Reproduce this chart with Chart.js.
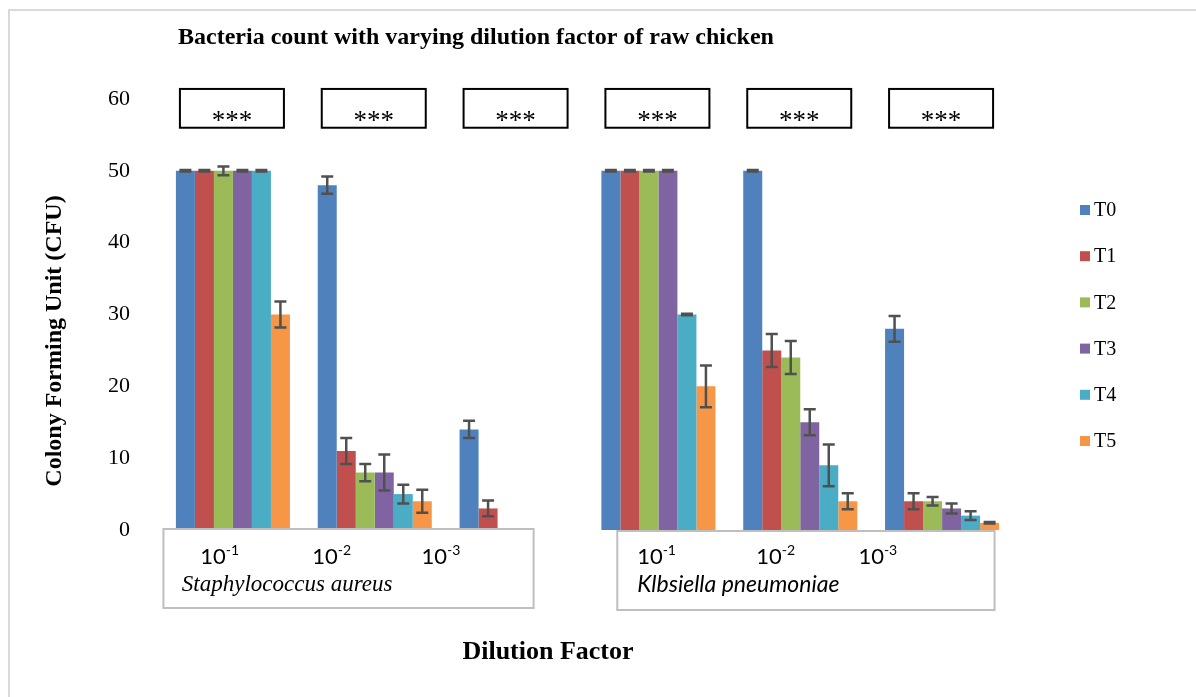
<!DOCTYPE html>
<html>
<head>
<meta charset="utf-8">
<script src="https://cdn.jsdelivr.net/npm/chart.js@4"></script>
<style>
  body { margin: 0; background: #fff; }
  #wrap { width: 1196px; height: 697px; position: relative; }
</style>
</head>
<body>
<div id="wrap"><canvas id="chart"></canvas></div>
<script>
// groups: S. aureus 10^-1..10^-3, then K. pneumoniae 10^-1..10^-3
const categories = ['S. aureus 10-1', 'S. aureus 10-2', 'S. aureus 10-3',
                    'K. pneumoniae 10-1', 'K. pneumoniae 10-2', 'K. pneumoniae 10-3'];
const seriesNames = ['T0', 'T1', 'T2', 'T3', 'T4', 'T5'];
const seriesColors = ['#4F81BD', '#C0504D', '#9BBB59', '#8064A2', '#4BACC6', '#F79646'];

const t0 = [50, 48, 14, 50, 50, 28];
const t1 = [50, 11, 3, 50, 25, 4];
const t2 = [50, 8, 0, 50, 24, 4];
const t3 = [50, 8, 0, 50, 15, 3];
const t4 = [50, 5, 0, 30, 9, 2];
const t5 = [30, 4, 0, 20, 4, 1];

const t0Err = [0.1, 1.2, 1.2, 0.1, 0.1, 1.8];
const t1Err = [0.1, 1.8, 1.1, 0.1, 2.3, 1.1];
const t2Err = [0.6, 1.2, 0, 0.1, 2.3, 0.6];
const t3Err = [0.1, 2.5, 0, 0.1, 1.8, 0.7];
const t4Err = [0.1, 1.3, 0, 0.1, 2.9, 0.6];
const t5Err = [1.8, 1.6, 0, 2.9, 1.1, 0.1];

const yTicks = [0, 10, 20, 30, 40, 50, 60];
const dilutionLabels = ['-1', '-2', '-3'];
const organisms = ['Staphylococcus aureus', 'Klbsiella pneumoniae'];
const significance = ['***', '***', '***', '***', '***', '***'];

const seriesValues = [t0, t1, t2, t3, t4, t5];
const seriesErrors = [t0Err, t1Err, t2Err, t3Err, t4Err, t5Err];

const SERIF = '"Liberation Serif", "Times New Roman", serif';
const SANS = 'Lato, "Liberation Sans", sans-serif';

// outer frame, titles
const framePlugin = {
    id: 'frame',
    beforeDraw(chart) {
        const c = chart.ctx;
        c.save();
        c.strokeStyle = '#d9d9d9';
        c.lineWidth = 2;
        c.beginPath();
        c.moveTo(9, 697);
        c.lineTo(9, 10);
        c.lineTo(1196, 10);
        c.stroke();
        c.restore();
    },
    afterDraw(chart) {
        const c = chart.ctx;
        c.save();
        c.fillStyle = '#000';
        c.font = 'bold 24px ' + SERIF;
        c.textBaseline = 'middle';
        c.textAlign = 'left';
        c.fillText('Bacteria count with varying dilution factor of raw chicken', 178, 38);

        c.font = 'bold 26px ' + SERIF;
        c.textAlign = 'center';
        c.fillText('Dilution Factor', 548, 652);

        c.translate(55, 341);
        c.rotate(-Math.PI / 2);
        c.font = 'bold 24px ' + SERIF;
        c.fillText('Colony Forming Unit (CFU)', 0, 0);
        c.restore();
    }
};

// error bars, drawn from the bar elements and the y scale
const errorBarPlugin = {
    id: 'errorBars',
    afterDatasetsDraw(chart) {
        const c = chart.ctx;
        const y = chart.scales.y;
        c.save();
        c.strokeStyle = '#505050';
        c.lineWidth = 2.5;
        chart.data.datasets.forEach((ds, i) => {
            const meta = chart.getDatasetMeta(i);
            meta.data.forEach((bar, j) => {
                const err = seriesErrors[i][j];
                if (!err) return;
                const v = ds.data[j];
                const top = y.getPixelForValue(v + err);
                const bot = y.getPixelForValue(v - err);
                c.beginPath();
                c.moveTo(bar.x, top);
                c.lineTo(bar.x, bot);
                c.moveTo(bar.x - 6, top);
                c.lineTo(bar.x + 6, top);
                c.moveTo(bar.x - 6, bot);
                c.lineTo(bar.x + 6, bot);
                c.stroke();
            });
        });
        c.restore();
    }
};

// significance boxes above each group
const starPlugin = {
    id: 'stars',
    afterDraw(chart) {
        const c = chart.ctx;
        const x = chart.scales.x;
        const y = chart.scales.y;
        c.save();
        significance.forEach((s, i) => {
            const cx = x.getPixelForValue(i) - 1;
            const top = y.getPixelForValue(61.4);
            const bot = y.getPixelForValue(56);
            c.strokeStyle = '#000';
            c.lineWidth = 2;
            c.strokeRect(cx - 52, top, 104, bot - top);
            c.fillStyle = '#000';
            c.font = '27px ' + SERIF;
            c.textAlign = 'center';
            c.textBaseline = 'alphabetic';
            c.fillText(s, cx, top + 40);
        });
        c.restore();
    }
};

function drawPower(c, x0, ymid, exp) {
    c.font = '22px ' + SANS;
    c.textBaseline = 'middle';
    c.textAlign = 'left';
    c.fillText('10', x0, ymid);
    const w = c.measureText('10').width;
    c.font = '14px ' + SANS;
    c.fillText(exp, x0 + w, ymid - 7);
}

// text boxes under the plot naming dilutions and organisms
const groupBoxPlugin = {
    id: 'groupBoxes',
    afterDraw(chart) {
        const c = chart.ctx;
        const x = chart.scales.x;
        const step = x.getPixelForValue(1) - x.getPixelForValue(0);
        const px = v => x.getPixelForValue(0) + v * step;
        const boxes = [
            { from: -0.49, to: 2.12, top: 529, labelAt: [-0.23, 0.56, 1.33], nameAt: -0.36, italic: 'italic 23px ' + SERIF },
            { from: 2.71, to: 5.37, top: 531, labelAt: [2.85, 3.69, 4.41], nameAt: 2.85, italic: 'italic 23px ' + SANS }
        ];
        c.save();
        boxes.forEach((b, k) => {
            c.fillStyle = '#fff';
            c.fillRect(px(b.from), b.top, px(b.to) - px(b.from), 79);
            c.strokeStyle = '#bfbfbf';
            c.lineWidth = 2;
            c.strokeRect(px(b.from), b.top, px(b.to) - px(b.from), 79);
            c.fillStyle = '#000';
            b.labelAt.forEach((p, n) => drawPower(c, px(p), 557, dilutionLabels[n]));
            c.font = b.italic;
            c.textAlign = 'left';
            c.textBaseline = 'middle';
            c.fillText(organisms[k], px(b.nameAt), 585);
        });
        c.restore();
    }
};

// legend on the right
const legendPlugin = {
    id: 'sideLegend',
    afterDraw(chart) {
        const c = chart.ctx;
        c.save();
        seriesNames.forEach((n, i) => {
            const cy = 210 + i * 46.2;
            c.fillStyle = seriesColors[i];
            c.fillRect(1080, cy - 5, 10, 10);
            c.fillStyle = '#000';
            c.font = '20px ' + SERIF;
            c.textAlign = 'left';
            c.textBaseline = 'middle';
            c.fillText(n, 1094, cy + 1);
        });
        c.restore();
    }
};

new Chart(document.getElementById('chart').getContext('2d'), {
    type: 'bar',
    data: {
        labels: categories,
        datasets: seriesNames.map((n, i) => ({
            label: n,
            data: seriesValues[i],
            backgroundColor: seriesColors[i],
            borderWidth: 0,
            categoryPercentage: 0.804,
            barPercentage: 1
        }))
    },
    options: {
        responsive: true,
        maintainAspectRatio: false,
        animation: false,
        layout: { padding: { left: 0, right: 183, top: 99, bottom: 167 } },
        plugins: {
            legend: { display: false },
            title: { display: false },
            tooltip: { enabled: false }
        },
        scales: {
            x: { display: false },
            y: {
                min: 0,
                max: 60,
                afterBuildTicks(scale) {
                    scale.ticks = yTicks.map(v => ({ value: v }));
                },
                afterFit(scale) {
                    scale.width = 162;
                },
                ticks: {
                    padding: 24,
                    color: '#000',
                    font: { family: SERIF, size: 22 }
                },
                grid: { display: false },
                border: { display: false }
            }
        }
    },
    plugins: [framePlugin, errorBarPlugin, starPlugin, groupBoxPlugin, legendPlugin]
});
</script>
</body>
</html>
